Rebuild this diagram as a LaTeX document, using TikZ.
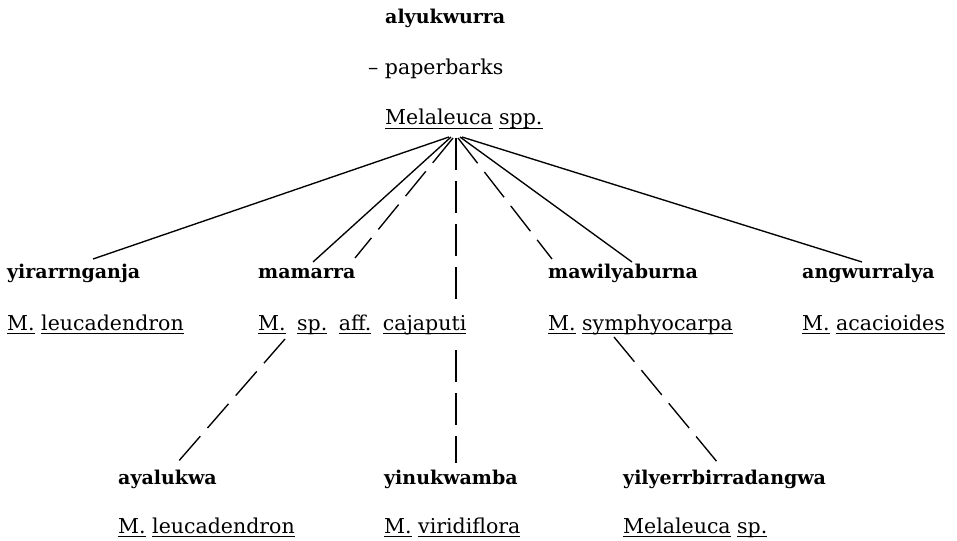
\documentclass[tikz,border=0pt]{standalone}
\usepackage{fontspec}
\setmainfont{DejaVu Serif}
% each word of a botanical name is underlined on its own, at a fixed depth
\newcommand\ul[1]{\setbox0\hbox{#1}\rlap{\rule[-4.2pt]{\wd0}{1.5pt}}\box0\relax}
\newcommand\wsp{\hspace{11.5pt}}
\tikzset{
  lexeme/.style={anchor=base west, inner sep=0pt, font=\fontsize{19}{22}\selectfont\bfseries},
  taxon/.style={anchor=base west, inner sep=0pt, font=\fontsize{20.5}{24}\selectfont},
  link/.style={line width=1.35pt},
  dlink/.style={line width=1.35pt, dash pattern=on 32pt off 11pt},
}
\begin{document}
\begin{tikzpicture}[x=1pt,y=-1pt]
\useasboundingbox (0,0) rectangle (957,540);

% head of the set
\node[lexeme] (alyu)  at (385,24)  {alyukwurra};
\node[taxon]  (paper) at (368,75)  {– paperbarks};
\node[taxon]  (mel)   at (385,125) {\ul{Melaleuca} \ul{spp.}};

% second level
\node[lexeme] (yir)  at (7,278)   {yirarrnganja};
\node[taxon]  (yirs) at (7,330)   {\ul{M.} \ul{leucadendron}};
\node[lexeme] (mam)  at (258,278) {mamarra};
\node[taxon]  (mams) at (258,330) {\ul{M.}\wsp\ul{sp.}\wsp\ul{aff.}\wsp\ul{cajaputi}};
\node[lexeme] (maw)  at (548,278) {mawilyaburna};
\node[taxon]  (maws) at (548,330) {\ul{M.} \ul{symphyocarpa}};
\node[lexeme] (ang)  at (802,278) {angwurralya};
\node[taxon]  (angs) at (802,330) {\ul{M.} \ul{acacioides}};

% third level
\node[lexeme] (aya)  at (118,484) {ayalukwa};
\node[taxon]  (ayas) at (118,533) {\ul{M.} \ul{leucadendron}};
\node[lexeme] (yin)  at (384,484) {yinukwamba};
\node[taxon]  (yins) at (384,533) {\ul{M.} \ul{viridiflora}};
\node[lexeme] (yil)  at (623,484) {yilyerrbirradangwa};
\node[taxon]  (yils) at (623,533) {\ul{Melaleuca} \ul{sp.}};

% fan below Melaleuca spp.
\draw[link]  ([shift={(64,12)}]mel.base west) -- ([shift={(86,-19)}]yir.base west);
\draw[link]  ([shift={(66,12)}]mel.base west) -- ([shift={(55,-16)}]mam.base west);
\draw[dlink] ([shift={(68,13)}]mel.base west) -- ([shift={(97,-20)}]mam.base west);
\draw[dlink] ([shift={(71,13)}]mel.base west) -- ([shift={(198,-22)}]mams.base west);
\draw[dlink] ([shift={(198,20)}]mams.base west) -- ([shift={(72,-21)}]yin.base west);
\draw[dlink] ([shift={(73,13)}]mel.base west) -- ([shift={(4,-19)}]maw.base west);
\draw[link]  ([shift={(75,12)}]mel.base west) -- ([shift={(84,-16)}]maw.base west);
\draw[link]  ([shift={(77,12)}]mel.base west) -- ([shift={(60,-16)}]ang.base west);

% links to the third level
\draw[dlink] ([shift={(27,9)}]mams.base west) -- ([shift={(59,-21)}]aya.base west);
\draw[dlink] ([shift={(66,7)}]maws.base west) -- ([shift={(95,-21)}]yil.base west);
\end{tikzpicture}
\end{document}
